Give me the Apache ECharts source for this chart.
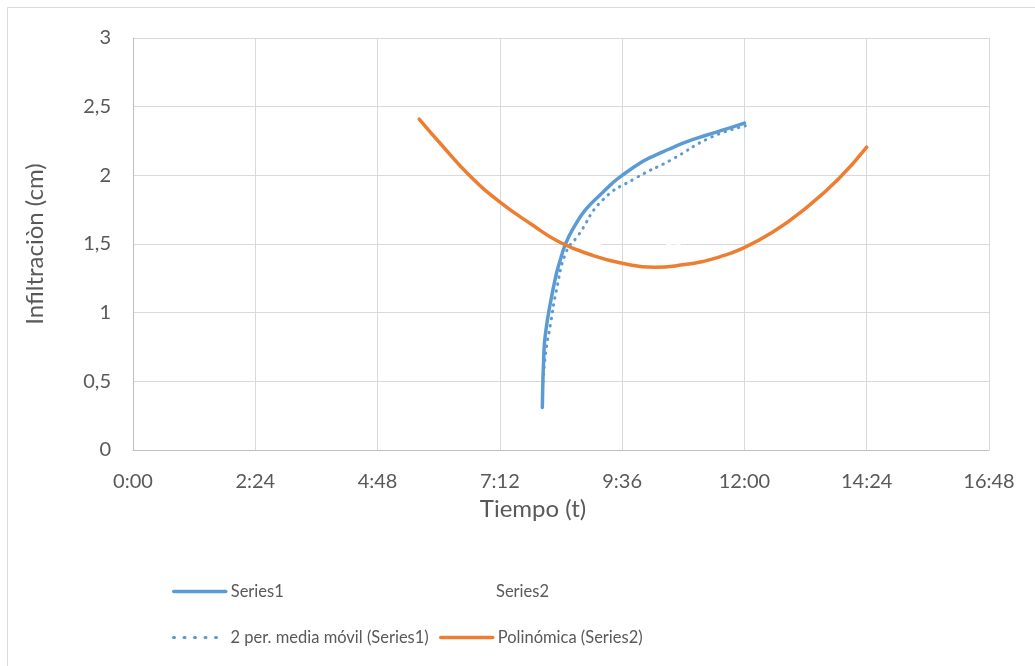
<!DOCTYPE html>
<html>
<head>
<meta charset="utf-8">
<title>Infiltración</title>
<script src="https://cdn.jsdelivr.net/npm/echarts@6/dist/echarts.min.js"></script>
<style>
    html, body { margin: 0; padding: 0; background: #fff; }
    #chart { width: 1035px; height: 666px; }
</style>
</head>
<body>
<div id="chart"></div>
<script>
// datos (tiempo en minutos, infiltracion en cm)
const xTickLabels = ['0:00', '2:24', '4:48', '7:12', '9:36', '12:00', '14:24', '16:48']
const yTickLabels = ['0', '0,5', '1', '1,5', '2', '2,5', '3']

const series1Time = [482, 484, 486, 490, 498, 502, 510, 520, 533, 553, 564, 576, 600, 611, 631, 650, 674, 700, 720]
const series1Value = [0.31, 0.73, 0.86, 1.02, 1.27, 1.36, 1.51, 1.63, 1.75, 1.875, 1.94, 2.00, 2.10, 2.135, 2.19, 2.24, 2.29, 2.34, 2.38]

const mediaTime = [483, 486, 492, 498, 510, 524, 553, 592, 633, 680, 721]
const mediaValue = [0.50, 0.71, 0.93, 1.145, 1.44, 1.56, 1.82, 1.98, 2.11, 2.275, 2.36]

const polyTime = [337, 365, 396, 431, 470, 502, 540, 576, 614, 650, 673, 690, 713, 753, 792, 831, 864]
const polyValue = [2.41, 2.21, 2.00, 1.81, 1.64, 1.515, 1.42, 1.36, 1.33, 1.35, 1.375, 1.405, 1.455, 1.585, 1.76, 1.975, 2.205]

// Series2 casi invisible (blanca), solo se nota sobre la linea 1,5
const series2Time = [520, 536, 552, null, 628, 637, 645]
const series2Value = [1.495, 1.505, 1.5, null, 1.5, 1.51, 1.5]

const pairs = (xs, ys) => xs.map((x, i) => x === null ? '-' : [x, ys[i]])

const FONT = 'Lato'
const TEXT = '#595959'
const BLUE = '#5b9bd5'
const ORANGE = '#ed7d31'

const chart = echarts.init(document.getElementById('chart'))

const legendBase = {
    orient: 'horizontal',
    padding: 0,
    itemWidth: 52,
    itemHeight: 14,
    selectedMode: false,
    itemStyle: { opacity: 0 },
    lineStyle: { width: 3.5 },
    textStyle: { color: TEXT, fontFamily: FONT, fontSize: 16.5 }
}

const option = {
    animation: false,
    backgroundColor: '#fff',
    graphic: [
        {
            type: 'rect',
            shape: { x: 7.5, y: 7.5, width: 1100, height: 700 },
            style: { fill: 'none', stroke: '#d9d9d9', lineWidth: 1 },
            silent: true
        }
    ],
    grid: {
        left: 133,
        right: 46,
        top: 38,
        bottom: 216
    },
    legend: [
        Object.assign({}, legendBase, { data: ['Series1'], left: 172, top: 583 }),
        Object.assign({}, legendBase, { data: [{ name: 'Series2', icon: 'none' }], left: 439, top: 583 }),
        Object.assign({}, legendBase, {
            data: ['2 per. media móvil (Series1)'],
            left: 172,
            top: 629,
            lineStyle: { width: 3, type: [1, 9.5], cap: 'round' }
        }),
        Object.assign({}, legendBase, { data: ['Polinómica (Series2)'], left: 439, top: 629 })
    ],
    xAxis: {
        type: 'value',
        min: 0,
        max: 1008,
        interval: 144,
        name: 'Tiempo (t)',
        nameLocation: 'middle',
        nameGap: 41,
        nameTextStyle: { color: TEXT, fontFamily: FONT, fontSize: 24, padding: [0, 56, 0, 0] },
        axisLine: { lineStyle: { color: '#bfbfbf', width: 1 } },
        axisTick: { show: false },
        axisLabel: {
            color: TEXT,
            fontFamily: FONT,
            fontSize: 20,
            margin: 22,
            formatter: v => xTickLabels[Math.round(v / 144)]
        },
        splitLine: { show: true, lineStyle: { color: '#d9d9d9', width: 1 } }
    },
    yAxis: {
        type: 'value',
        min: 0,
        max: 3,
        interval: 0.5,
        name: 'Infiltraciòn (cm)',
        nameLocation: 'middle',
        nameGap: 86,
        nameTextStyle: { color: TEXT, fontFamily: FONT, fontSize: 24 },
        axisLine: { show: true, lineStyle: { color: '#bfbfbf', width: 1 } },
        axisTick: { show: false },
        axisLabel: {
            color: TEXT,
            fontFamily: FONT,
            fontSize: 20,
            margin: 22,
            formatter: v => yTickLabels[Math.round(v / 0.5)]
        },
        splitLine: { lineStyle: { color: '#d9d9d9', width: 1 } }
    },
    series: [
        {
            name: 'Series1',
            type: 'line',
            data: pairs(series1Time, series1Value),
            smooth: 0.5,
            symbol: 'none',
            itemStyle: { color: BLUE },
            lineStyle: { color: BLUE, width: 3.5, cap: 'round' }
        },
        {
            name: 'Series2',
            type: 'line',
            data: pairs(series2Time, series2Value),
            symbol: 'none',
            connectNulls: false,
            itemStyle: { color: '#fff' },
            lineStyle: { color: '#fff', width: 3 }
        },
        {
            name: '2 per. media móvil (Series1)',
            type: 'line',
            data: pairs(mediaTime, mediaValue),
            smooth: 0.5,
            symbol: 'none',
            itemStyle: { color: BLUE },
            lineStyle: { color: BLUE, width: 3, type: [0.5, 6.5], cap: 'round' }
        },
        {
            name: 'Polinómica (Series2)',
            type: 'line',
            data: pairs(polyTime, polyValue),
            smooth: 0.5,
            symbol: 'none',
            itemStyle: { color: ORANGE },
            lineStyle: { color: ORANGE, width: 3.5, cap: 'round' }
        }
    ]
}

chart.setOption(option)
window.addEventListener('resize', () => {
    chart.resize()
})
</script>
</body>
</html>
